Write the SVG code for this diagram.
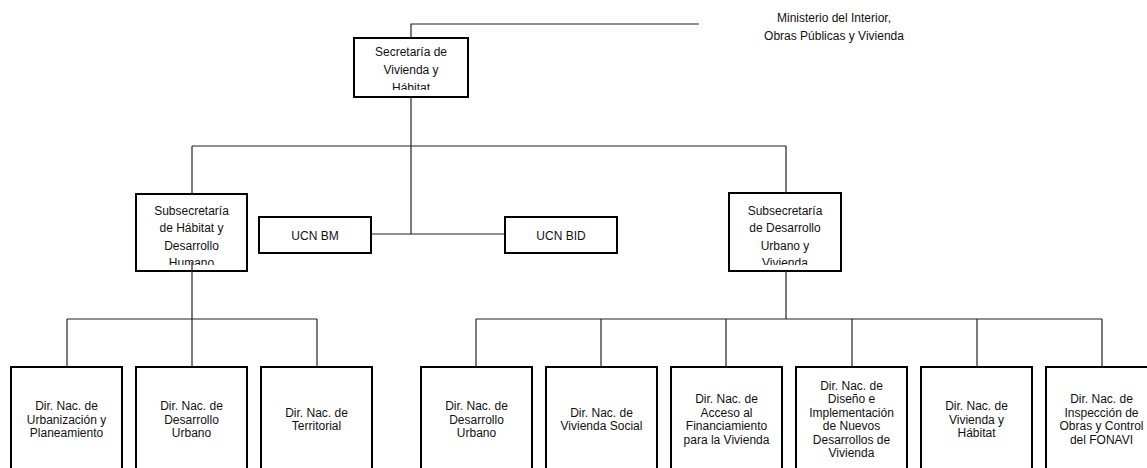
<svg xmlns="http://www.w3.org/2000/svg" width="1147" height="468" viewBox="0 0 1147 468">
<style>
.box{fill:#fff;stroke:#000;stroke-width:2}
.t{font-family:"Liberation Sans",Arial,sans-serif;font-size:12px;fill:#111;text-anchor:middle}
.c{stroke:#222;stroke-width:1.2;fill:none}
</style>
<defs>
<clipPath id="clipSec" clipPathUnits="userSpaceOnUse"><rect x="355" y="39" width="112" height="51"/></clipPath>
<clipPath id="clipSubL" clipPathUnits="userSpaceOnUse"><rect x="137" y="195" width="109" height="70"/></clipPath>
<clipPath id="clipSubR" clipPathUnits="userSpaceOnUse"><rect x="730" y="194" width="110" height="71"/></clipPath>
</defs>
<rect width="1147" height="468" fill="#fff"/>

<g id="ministerio">
<text class="t"><tspan x="834" y="22">Ministerio del Interior,</tspan><tspan x="834" y="40">Obras Públicas y Vivienda</tspan></text>
</g>

<g id="secretaria">
<rect class="box" x="354" y="38" width="114" height="59"/>
<text class="t" clip-path="url(#clipSec)"><tspan x="411" y="56">Secretaría de</tspan><tspan x="411" y="73.5">Vivienda y</tspan><tspan x="411" y="91.5">Hábitat</tspan></text>
</g>

<g id="subsec-habitat">
<rect class="box" x="136" y="194" width="111" height="77"/>
<text class="t" clip-path="url(#clipSubL)"><tspan x="191.5" y="214.5">Subsecretaría</tspan><tspan x="191.5" y="232">de Hábitat y</tspan><tspan x="191.5" y="249.5">Desarrollo</tspan><tspan x="191.5" y="267">Humano</tspan></text>
</g>

<g id="ucn-bm">
<rect class="box" x="259" y="217" width="112" height="36"/>
<text class="t" x="315" y="239.5">UCN BM</text>
</g>

<g id="ucn-bid">
<rect class="box" x="505" y="217" width="112" height="36"/>
<text class="t" x="561" y="239.5">UCN BID</text>
</g>

<g id="subsec-desarrollo">
<rect class="box" x="729" y="193" width="112" height="78"/>
<text class="t" clip-path="url(#clipSubR)"><tspan x="785" y="214.5">Subsecretaría</tspan><tspan x="785" y="232">de Desarrollo</tspan><tspan x="785" y="249.5">Urbano y</tspan><tspan x="785" y="267">Vivienda</tspan></text>
</g>

<g id="dn-urbanizacion">
<rect class="box" x="11" y="367" width="111" height="110"/>
<text class="t"><tspan x="66.5" y="410">Dir. Nac. de</tspan><tspan x="66.5" y="423.5">Urbanización y</tspan><tspan x="66.5" y="437">Planeamiento</tspan></text>
</g>
<g id="dn-desarrollo-urbano-1">
<rect class="box" x="136" y="367" width="111" height="110"/>
<text class="t"><tspan x="191.5" y="410">Dir. Nac. de</tspan><tspan x="191.5" y="423.5">Desarrollo</tspan><tspan x="191.5" y="437">Urbano</tspan></text>
</g>
<g id="dn-territorial">
<rect class="box" x="261" y="367" width="111" height="110"/>
<text class="t"><tspan x="316.5" y="416.5">Dir. Nac. de</tspan><tspan x="316.5" y="430">Territorial</tspan></text>
</g>

<g id="dn-desarrollo-urbano-2">
<rect class="box" x="421" y="367" width="111" height="110"/>
<text class="t"><tspan x="476.5" y="410">Dir. Nac. de</tspan><tspan x="476.5" y="423.5">Desarrollo</tspan><tspan x="476.5" y="437">Urbano</tspan></text>
</g>
<g id="dn-vivienda-social">
<rect class="box" x="546" y="367" width="111" height="110"/>
<text class="t"><tspan x="601.5" y="416.5">Dir. Nac. de</tspan><tspan x="601.5" y="430">Vivienda Social</tspan></text>
</g>
<g id="dn-acceso">
<rect class="box" x="671" y="367" width="111" height="110"/>
<text class="t"><tspan x="726.5" y="403">Dir. Nac. de</tspan><tspan x="726.5" y="416.5">Acceso al</tspan><tspan x="726.5" y="430">Financiamiento</tspan><tspan x="726.5" y="443.5">para la Vivienda</tspan></text>
</g>
<g id="dn-diseno">
<rect class="box" x="796" y="367" width="111" height="110"/>
<text class="t"><tspan x="851.5" y="389.5">Dir. Nac. de</tspan><tspan x="851.5" y="403">Diseño e</tspan><tspan x="851.5" y="416.5">Implementación</tspan><tspan x="851.5" y="430">de Nuevos</tspan><tspan x="851.5" y="443.5">Desarrollos de</tspan><tspan x="851.5" y="457">Vivienda</tspan></text>
</g>
<g id="dn-vivienda-habitat">
<rect class="box" x="921" y="367" width="111" height="110"/>
<text class="t"><tspan x="976.5" y="410">Dir. Nac. de</tspan><tspan x="976.5" y="423.5">Vivienda y</tspan><tspan x="976.5" y="437">Hábitat</tspan></text>
</g>
<g id="dn-inspeccion">
<rect class="box" x="1046" y="367" width="111" height="110"/>
<text class="t"><tspan x="1101.5" y="403">Dir. Nac. de</tspan><tspan x="1101.5" y="416.5">Inspección de</tspan><tspan x="1101.5" y="430">Obras y Control</tspan><tspan x="1101.5" y="443.5">del FONAVI</tspan></text>
</g>

<g id="connectors">
<polyline class="c" points="699,24 411,24 411,38"/>
<line class="c" x1="411" y1="97" x2="411" y2="234"/>
<line class="c" x1="192" y1="146" x2="786" y2="146"/>
<line class="c" x1="192" y1="146" x2="192" y2="194"/>
<line class="c" x1="786" y1="146" x2="786" y2="193"/>
<line class="c" x1="371" y1="234" x2="505" y2="234"/>
<line class="c" x1="192" y1="262" x2="192" y2="367"/>
<line class="c" x1="67" y1="319" x2="317" y2="319"/>
<line class="c" x1="67" y1="319" x2="67" y2="367"/>
<line class="c" x1="317" y1="319" x2="317" y2="367"/>
<line class="c" x1="786" y1="271" x2="786" y2="319"/>
<line class="c" x1="476" y1="319" x2="1102" y2="319"/>
<line class="c" x1="476" y1="319" x2="476" y2="367"/>
<line class="c" x1="601" y1="319" x2="601" y2="367"/>
<line class="c" x1="726" y1="319" x2="726" y2="367"/>
<line class="c" x1="852" y1="319" x2="852" y2="367"/>
<line class="c" x1="977" y1="319" x2="977" y2="367"/>
<line class="c" x1="1102" y1="319" x2="1102" y2="367"/>
</g>
</svg>
